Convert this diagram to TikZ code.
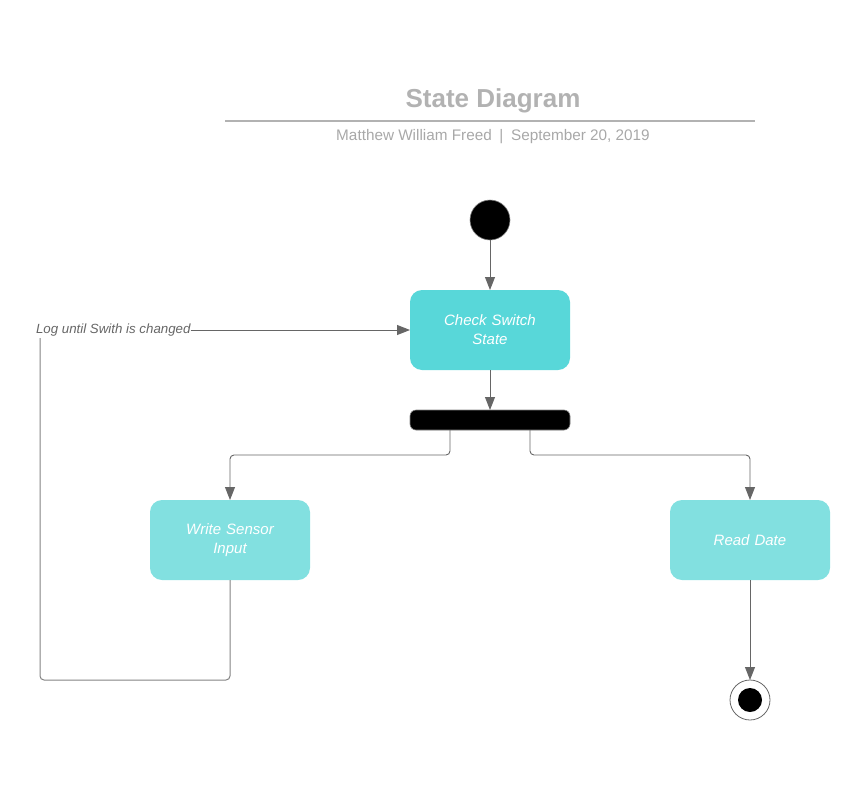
\documentclass[tikz,border=0pt]{standalone}
\usepackage{fontspec}
\setmainfont{Liberation Sans}
\usetikzlibrary{arrows.meta,positioning,calc}
\definecolor{switchcyan}{RGB}{88,215,217}
\definecolor{statecyan}{RGB}{130,224,224}
\definecolor{titlegray}{RGB}{178,178,178}
\definecolor{subgray}{RGB}{168,168,168}
\definecolor{linegray}{RGB}{102,102,102}
\definecolor{loopgray}{RGB}{130,130,130}

\begin{document}
\begin{tikzpicture}[x=1pt, y=-1pt,
        every node/.style={outer sep=0pt},
        state/.style={rectangle, rounded corners=12pt, fill=statecyan, minimum width=160pt, minimum height=80pt, inner sep=0pt, text width=140pt, align=center, text=white, font=\fontsize{15}{19}\selectfont\itshape},
        initial/.style={circle, fill=black, draw=loopgray, line width=0.6pt, minimum size=40pt, inner sep=0pt},
        final/.style={circle, draw=linegray, line width=0.8pt, fill=white, minimum size=40pt, inner sep=0pt},
        forkbar/.style={rectangle, rounded corners=6pt, fill=black, draw=loopgray, line width=0.6pt, minimum width=160pt, minimum height=20pt, inner sep=0pt},
        flow/.style={-{Triangle[length=13pt, width=10pt]}, linegray, line width=0.9pt, rounded corners=4pt}
    ]
    \useasboundingbox (0,0) rectangle (868,806);
    % heading
    \node[text=titlegray, font=\fontsize{26}{30}\selectfont\bfseries] (title) at (493,101) {State Diagram};
    \draw[titlegray, line width=1.5pt] (225,121) -- (755,121);
    \node[text=subgray, font=\fontsize{15.3}{18}\selectfont] (byline) at (493,136.5) {Matthew William Freed\enspace|\enspace September 20, 2019};

    % states
    \node[initial] (start) at (490,220) {};
    \node[state, fill=switchcyan, below=50pt of start] (check) {Check Switch\\State};
    \node[forkbar, below=40pt of check] (bar) {};
    \node[state, below left=70pt and 100pt of bar] (write) {Write Sensor\\Input};
    \node[state, below right=70pt and 100pt of bar] (read) {Read Date};
    \node[final, below=100pt of read] (stop) {};
    \node[circle, fill=black, minimum size=24pt, inner sep=0pt] (stopdot) at (stop) {};
    \node[anchor=west, text=linegray, font=\fontsize{13.3}{15}\selectfont\itshape, inner sep=0pt] (loglbl) at (36,330) {Log until Swith is changed};

    \draw[flow] (start) -- (check);
    \draw[flow] (check) -- (bar);
    \draw[flow] ([xshift=-40pt]bar.south) -- ++(0,25) -| (write.north);
    \draw[flow] ([xshift=40pt]bar.south) -- ++(0,25) -| (read.north);
    \draw[flow] (read) -- (stop);

    % loop back
    \coordinate (loopcorner) at (40,680);
    \draw[loopgray, line width=1pt, rounded corners=4pt] (write.south) |- (loopcorner) -- ([yshift=-2pt]loopcorner |- loglbl.south);
    \draw[flow] (loglbl.east) -- (loglbl.east -| check.west);
\end{tikzpicture}
\end{document}
